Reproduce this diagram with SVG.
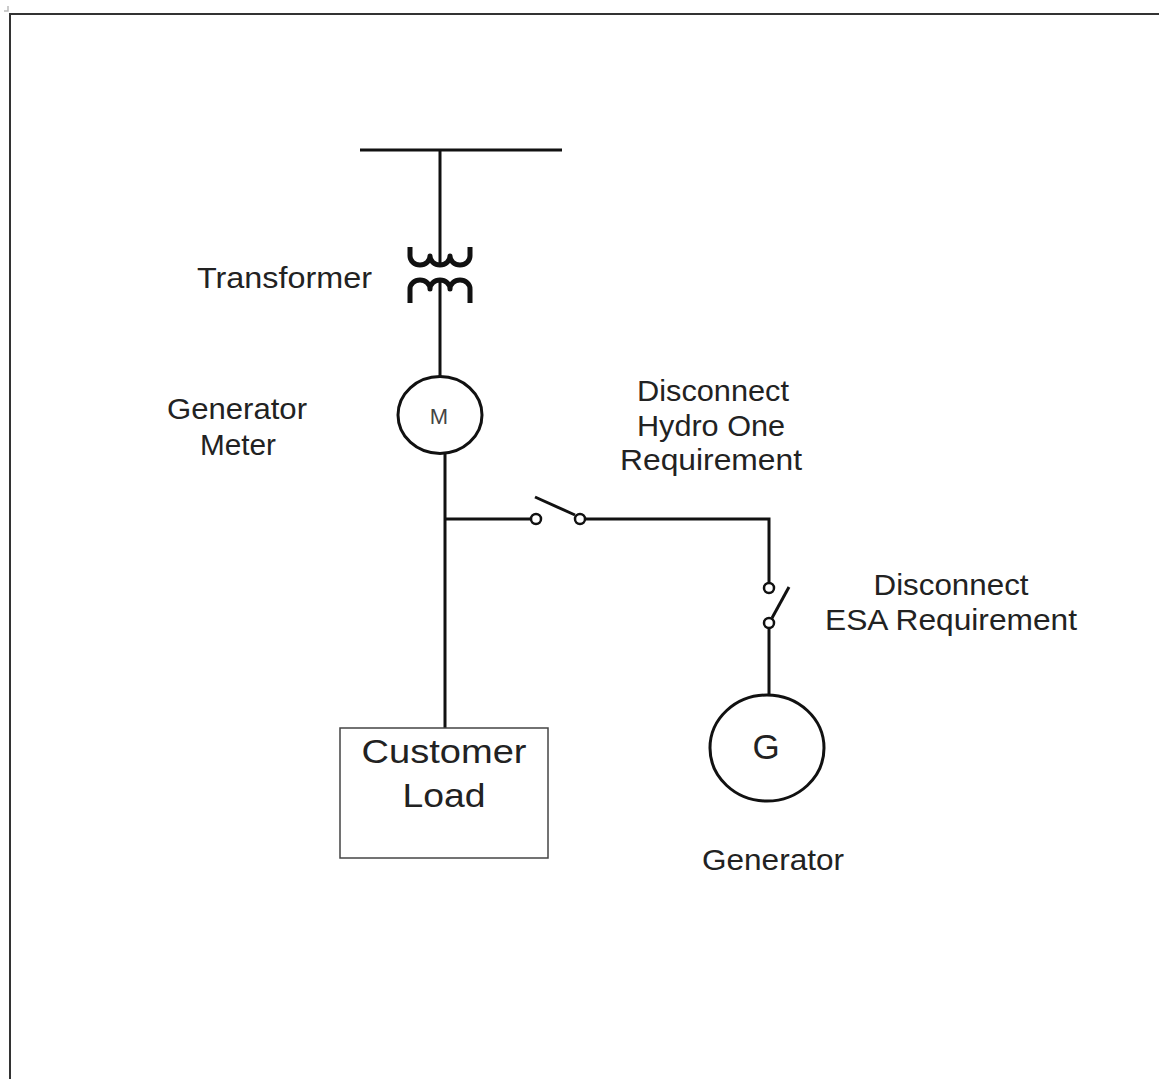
<svg xmlns="http://www.w3.org/2000/svg" width="1159" height="1079" viewBox="0 0 1159 1079">
<style>
.w{stroke:#111;stroke-width:3;fill:none;stroke-linecap:butt}
.coil{stroke:#111;stroke-width:5;fill:none;stroke-linejoin:round}
.ct{stroke:#111;stroke-width:2.5;fill:#fff}
.t{font-family:"Liberation Sans",Arial,sans-serif;fill:#222}
.m{text-anchor:middle}
</style>
<rect width="1159" height="1079" fill="#fff"/>
<g id="frame">
<path d="M10,1079 V14 H1159" stroke="#333" stroke-width="2" fill="none"/>
<path d="M4,11 H8 V6" stroke="#bbb" stroke-width="1.5" fill="none"/>
</g>
<g id="connectors">
<line class="w" x1="440" y1="150" x2="440" y2="265"/>
<line class="w" x1="440" y1="281" x2="440" y2="377"/>
<line class="w" x1="445" y1="453" x2="445" y2="728"/>
<line class="w" x1="445" y1="519" x2="531" y2="519"/>
<path class="w" d="M585,519 H769 V583"/>
<line class="w" x1="769" y1="628" x2="769" y2="695"/>
</g>
<g id="bus"><line class="w" x1="360" y1="150" x2="562" y2="150"/></g>
<g id="transformer">
<path class="coil" d="M410,247 V256 A10,9 0 0 0 430,256 A10,9 0 0 0 450,256 A10,9 0 0 0 470,256 V247"/>
<path class="coil" d="M410,303 V289 A10,9 0 0 1 430,289 A10,9 0 0 1 450,289 A10,9 0 0 1 470,289 V303"/>
<text class="t" x="197" y="288" font-size="30" textLength="175" lengthAdjust="spacingAndGlyphs">Transformer</text>
</g>
<g id="meter">
<ellipse cx="440" cy="415" rx="42" ry="38.5" class="w"/>
<text class="t m" x="439" y="424" font-size="22" style="fill:#444">M</text>
<text class="t" x="167" y="419" font-size="30" textLength="140" lengthAdjust="spacingAndGlyphs">Generator</text>
<text class="t" x="200" y="455" font-size="30" textLength="76" lengthAdjust="spacingAndGlyphs">Meter</text>
</g>
<g id="switch-hydro">
<circle class="ct" cx="536" cy="519" r="5"/>
<circle class="ct" cx="580" cy="519" r="5"/>
<line class="w" x1="535" y1="497" x2="575" y2="515"/>
<text class="t m" x="713" y="401" font-size="30" textLength="152" lengthAdjust="spacingAndGlyphs">Disconnect</text>
<text class="t m" x="711" y="436" font-size="30" textLength="148" lengthAdjust="spacingAndGlyphs">Hydro One</text>
<text class="t m" x="711" y="470" font-size="30" textLength="182" lengthAdjust="spacingAndGlyphs">Requirement</text>
</g>
<g id="switch-esa">
<circle class="ct" cx="769" cy="588" r="5"/>
<circle class="ct" cx="769" cy="623" r="5"/>
<line class="w" x1="772" y1="618" x2="789" y2="587"/>
<text class="t m" x="951" y="595" font-size="30" textLength="155" lengthAdjust="spacingAndGlyphs">Disconnect</text>
<text class="t m" x="951" y="630" font-size="30" textLength="252" lengthAdjust="spacingAndGlyphs">ESA Requirement</text>
</g>
<g id="load">
<rect x="340" y="728" width="208" height="130" fill="none" stroke="#444" stroke-width="1.5"/>
<text class="t m" x="444" y="763" font-size="33" textLength="165" lengthAdjust="spacingAndGlyphs">Customer</text>
<text class="t m" x="444" y="807" font-size="33" textLength="83" lengthAdjust="spacingAndGlyphs">Load</text>
</g>
<g id="generator">
<ellipse cx="767" cy="748" rx="57" ry="53" class="w"/>
<text class="t m" x="766" y="759" font-size="35">G</text>
<text class="t m" x="773" y="870" font-size="30" textLength="142" lengthAdjust="spacingAndGlyphs">Generator</text>
</g>
</svg>
